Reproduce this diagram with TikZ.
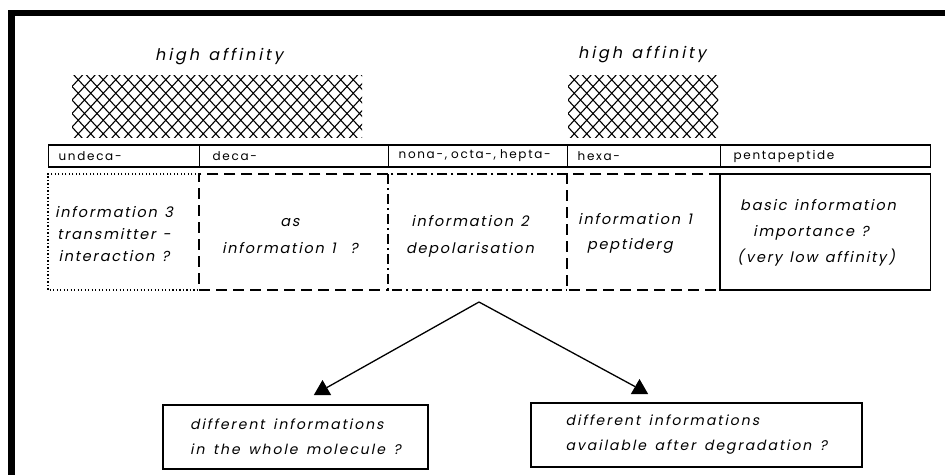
\documentclass[tikz,border=0pt]{standalone}
\usepackage{fontspec}
\usetikzlibrary{shapes.geometric}
\newfontfamily\hdrfont[LetterSpace=14]{Poppins}
\newfontfamily\itfont[LetterSpace=12,WordSpace=1.3,FakeSlant=0.2]{Poppins}
\newfontfamily\hafont[LetterSpace=18,WordSpace=1.3,FakeSlant=0.2]{Poppins}
\newfontfamily\btfont[LetterSpace=14,WordSpace=1.5,FakeSlant=0.2]{Poppins}
\newcommand\crosshatch[4]{%
  \begin{scope}
    \clip (#1,#2) rectangle (#3,#4);
    \foreach \k in {-7,...,33} {
      \draw[hatchline] ({#1+12.5*\k},{#2-2}) -- ++(62,67);
      \draw[hatchline] ({#1+12.5*\k},{#2-2}) -- ++(-62,67);
    }
  \end{scope}}
\begin{document}
\begin{tikzpicture}[x=1pt,y=-1pt,
  hatchline/.style={line width=1.1pt},
  hcell/.style={draw, line width=1.3pt, anchor=west, minimum height=22pt,
    inner xsep=10pt, inner ysep=0pt, text width=#1, align=left,
    font=\hdrfont\fontsize{12}{14}\selectfont},
  cbox/.style={anchor=west, minimum width=#1, minimum height=116pt, inner sep=0pt},
  dotline/.style={line width=1.6pt, dash pattern=on 1.3pt off 2.2pt},
  dashline/.style={line width=2pt, dash pattern=on 11pt off 6pt},
  dashdotline/.style={line width=1.8pt, dash pattern=on 10pt off 4pt on 2pt off 4pt},
  solidline/.style={line width=1.6pt},
  itext/.style={inner sep=0pt, font=\itfont\fontsize{14.5}{#1}\selectfont},
  hatext/.style={inner sep=0pt, font=\hafont\fontsize{16}{18}\selectfont},
  bbox/.style={draw, line width=1.3pt, inner sep=0pt,
    minimum height=64pt, minimum width=#1, align=left,
    font=\btfont\fontsize{14}{25}\selectfont},
  tri/.style={regular polygon, regular polygon sides=3, fill=black,
    inner sep=0pt, minimum size=20pt},
  conn/.style={line width=1.3pt}
]
\useasboundingbox (0,0) rectangle (945,475);
\fill[white] (0,0) rectangle (945,475);
% black frame
\fill[black] (8,10) rectangle (15,475);
\fill[black] (8,10) rectangle (945,16);

% high affinity labels
\node[hatext] (ha1) at (219,57) {high affinity};
\node[hatext] (ha2) at (642,55) {high affinity};

% cross hatching
\crosshatch{72}{75}{362}{137}
\crosshatch{568}{75}{718}{137}

% header row
\node[hcell=131pt] (h1) at (48,156) {undeca-};
\node[hcell=169pt] (h2) at (199,156) {\hspace{3pt}deca-};
\node[hcell=159pt] (h3) at (388,156) {nona-, octa-, hepta-};
\node[hcell=133pt] (h4) at (567,156) {hexa-};
\node[hcell=190pt] (h5) at (720,156) {\hspace{3pt}pentapeptide};

% content boxes
\node[cbox=151pt] (c1) at (48,232) {};
\node[cbox=189pt] (c2) at (199,232) {};
\node[cbox=179pt] (c3) at (388,232) {};
\node[cbox=153pt] (c4) at (567,232) {};
\node[cbox=210pt] (c5) at (720,232) {};
\draw[dotline] (c1.north east) -- (c1.north west) -- (c1.south west) -- (c1.south east);
\draw[dashline] (c2.north east) -- (c2.north west) -- (c2.south west) -- (c2.south east);
\draw[dashdotline] (c3.north east) -- (c3.north west) -- (c3.south west) -- (c3.south east);
\draw[dashline] (c4.north east) -- (c4.north west) -- (c4.south west) -- (c4.south east);
\draw[solidline] (c5.north west) rectangle (c5.south east);

% content texts
\node[itext=22, align=center] (t1) at (114,234) {information 3\\transmitter -\\interaction ?};
\node[itext=27, align=center] (t2) at (290,236) {as\\information 1\ \ ?};
\node[itext=27, align=center] (t3) at (470,236) {information 2\\depolarisation};
\node[itext=25, align=left, anchor=west] (t4) at (578,233) {information 1\\\hspace{9pt}peptiderg};
\node[itext=26, align=left, anchor=west] (t5) at (737,233) {\hspace{3pt}basic information\\\hspace{16pt}importance ?\\(\,very low affinity\,)};

% arrows
\coordinate (apex) at (479,302);
\node[tri] (tl) at (322.5,390) {};
\node[tri] (tr) at (639.5,389) {};
\draw[conn] (apex) -- (tl);
\draw[conn] (apex) -- (tr);

% bottom boxes
\node[bbox=265pt] (q1) at (295.5,437) {different informations\\in the whole molecule ?};
\node[bbox=331pt] (q2) at (696.5,435) {different informations\\available after degradation ?};
\end{tikzpicture}
\end{document}
